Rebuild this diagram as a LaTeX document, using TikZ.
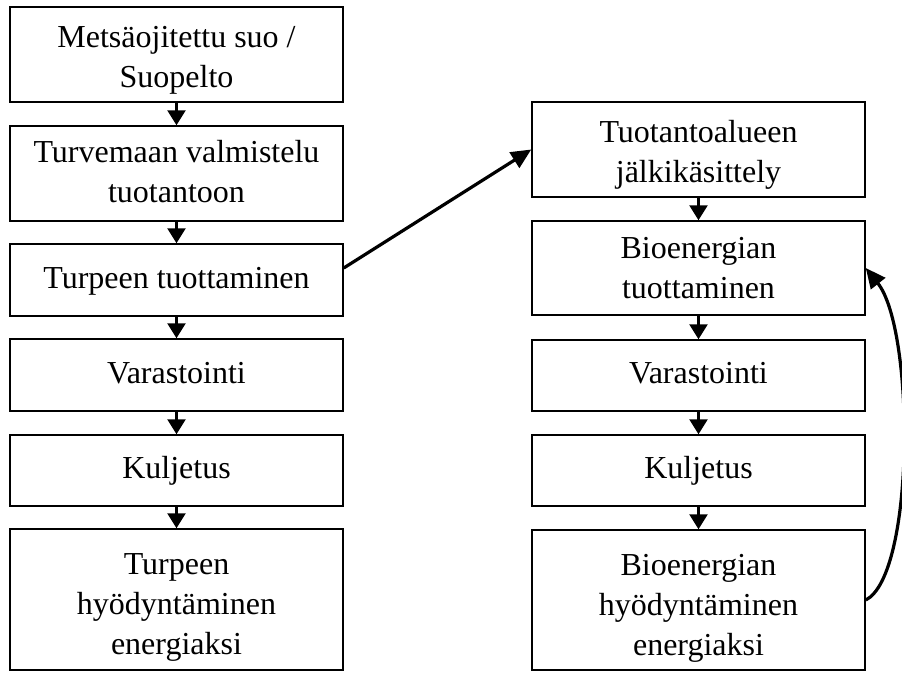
\documentclass[tikz,border=0pt]{standalone}
\usepackage{fontspec}
\setmainfont{Liberation Serif}
\usetikzlibrary{arrows.meta}
\begin{document}
\begin{tikzpicture}[x=1pt,y=-1pt,
  box/.style={draw=black, line width=1.5pt, minimum width=333pt, inner sep=0pt},
  txt/.style={inner sep=0pt, align=center, font=\fontsize{32}{40}\selectfont},
  dnarrow/.style={line width=2.5pt, -{Triangle[length=15pt,width=18pt]}},
  longarrow/.style={line width=3.2pt, -{Triangle[length=20pt,width=18pt]}},
]
\useasboundingbox (0,0) rectangle (902,672);
% left column
\node[box, minimum height=95pt] (b1) at (176.5,54.5) {};
\node[box, minimum height=95pt] (b2) at (176.5,173.5) {};
\node[box, minimum height=72pt] (b3) at (176.5,280) {};
\node[box, minimum height=72pt] (b4) at (176.5,375) {};
\node[box, minimum height=71pt] (b5) at (176.5,470.5) {};
\node[box, minimum height=141pt] (b6) at (176.5,599.5) {};
\node[txt] (tb1) at ([yshift=-5pt]b1.center) {\strut Metsäojitettu suo /\\\strut Suopelto};
\node[txt] (tb2) at ([yshift=-1pt]b2.center) {\strut Turvemaan valmistelu\\\strut tuotantoon};
\node[txt] (tb3) at (b3.center) {\strut Turpeen tuottaminen};
\node[txt] (tb4) at (b4.center) {\strut Varastointi};
\node[txt] (tb5) at (b5.center) {\strut Kuljetus};
\node[txt] (tb6) at ([yshift=-7pt]b6.center) {\strut Turpeen\\\strut hyödyntäminen\\\strut energiaksi};
% right column
\node[box, minimum height=95pt] (r1) at (698.5,149.5) {};
\node[box, minimum height=94pt] (r2) at (698.5,268) {};
\node[box, minimum height=71pt] (r3) at (698.5,375.5) {};
\node[box, minimum height=71pt] (r4) at (698.5,470.5) {};
\node[box, minimum height=140pt] (r5) at (698.5,600) {};
\node[txt] (tr1) at ([yshift=-5pt]r1.center) {\strut Tuotantoalueen\\\strut jälkikäsittely};
\node[txt] (tr2) at ([yshift=-2pt]r2.center) {\strut Bioenergian\\\strut tuottaminen};
\node[txt] (tr3) at (r3.center) {\strut Varastointi};
\node[txt] (tr4) at (r4.center) {\strut Kuljetus};
\node[txt] (tr5) at ([yshift=-7pt]r5.center) {\strut Bioenergian\\\strut hyödyntäminen\\\strut energiaksi};
% arrows
\draw[dnarrow] (b1.south) -- (b2.north);
\draw[dnarrow] (b2.south) -- (b3.north);
\draw[dnarrow] (b3.south) -- (b4.north);
\draw[dnarrow] (b4.south) -- (b5.north);
\draw[dnarrow] (b5.south) -- (b6.north);
\draw[dnarrow] (r1.south) -- (r2.north);
\draw[dnarrow] (r2.south) -- (r3.north);
\draw[dnarrow] (r3.south) -- (r4.north);
\draw[dnarrow] (r4.south) -- (r5.north);
\draw[longarrow] ([yshift=12pt]b3.east) -- (r1.west);
\draw[longarrow] (r5.east) .. controls (915,575) and (915,330) .. (r2.east);
\end{tikzpicture}
\end{document}
